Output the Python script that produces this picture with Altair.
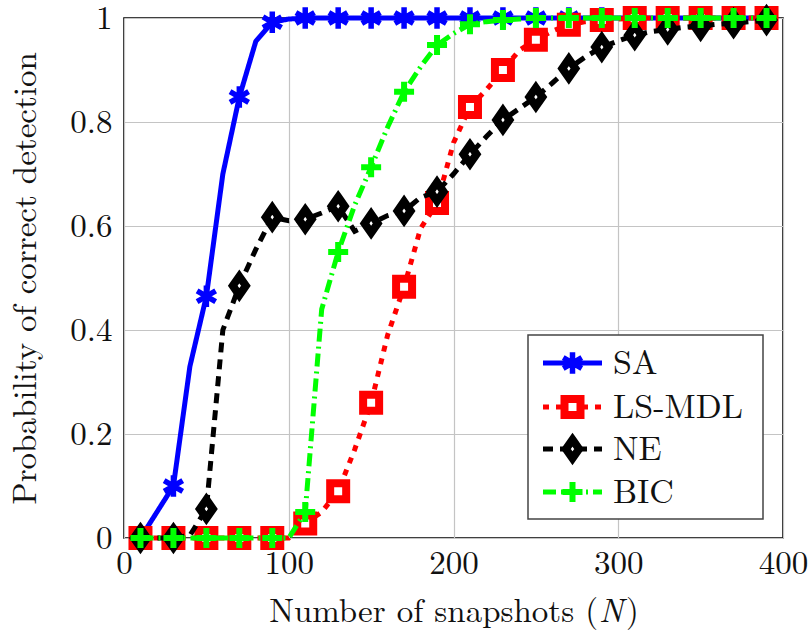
import altair as alt
import pandas as pd

# Number of snapshots N at which each detector was evaluated
snapshots = list(range(10, 400, 10))

# Probability of correct detection per method
sa = [0.0, 0.05, 0.10, 0.33, 0.465, 0.70, 0.848, 0.955, 0.992, 0.998] + [1.0] * 29
ls_mdl = [0.0] * 10 + [0.028, 0.05, 0.09, 0.17, 0.26, 0.39, 0.483, 0.595, 0.644, 0.76,
                       0.829, 0.862, 0.90, 0.938, 0.958, 0.975, 0.987, 0.993, 0.996, 0.998] + [1.0] * 9
ne = [0.0, 0.0, 0.0, 0.005, 0.056, 0.40, 0.485, 0.555, 0.617, 0.61,
      0.613, 0.625, 0.638, 0.59, 0.605, 0.62, 0.629, 0.655, 0.666, 0.70,
      0.738, 0.772, 0.804, 0.826, 0.848, 0.875, 0.903, 0.925, 0.944, 0.956,
      0.967, 0.974, 0.978, 0.982, 0.985, 0.988, 0.99, 0.993, 0.996]
bic = [0.0] * 10 + [0.05, 0.44, 0.55, 0.64, 0.713, 0.79, 0.858, 0.906, 0.948, 0.97,
                    0.988, 0.993, 0.996, 0.998] + [1.0] * 15

series = ["SA", "LS-MDL", "NE", "BIC"]
values = [sa, ls_mdl, ne, bic]

x_ticks = [0, 100, 200, 300, 400]
y_ticks = [0, 0.2, 0.4, 0.6, 0.8, 1]

rows = []
for name, vals in zip(series, values):
    for n, p in zip(snapshots, vals):
        rows.append({"N": n, "P": p, "method": name})
df = pd.DataFrame(rows)

FONT = "Latin Modern Roman"
INK = "#111111"
TITLE_SIZE = 33

ASTERISK = "M0,-1L0,1M-0.866,-0.5L0.866,0.5M-0.866,0.5L0.866,-0.5"
PLUS = "M-1,0L1,0M0,-1L0,1"
DIAMOND = "M0,-1L0.7,0L0,1L-0.7,0Z"

styles = {
    "SA": dict(color="#0000ff", dash=[1, 0], shape=ASTERISK, size=460, fill=None, sw=5.5),
    "LS-MDL": dict(color="#ff0000", dash=[6, 7], shape="square", size=256, fill="white", sw=8),
    "NE": dict(color="#000000", dash=[10, 7], shape=DIAMOND, size=350, fill="white", sw=8),
    "BIC": dict(color="#00ff00", dash=[13, 5, 2, 5], shape=PLUS, size=400, fill=None, sw=6),
}

x_enc = alt.X(
    "N:Q",
    scale=alt.Scale(domain=[0, 400], nice=False, zero=False),
    axis=alt.Axis(values=x_ticks, title=None, grid=True,
                  labelPadding=9, labelOverlap=False, labelFlush=False),
)
y_enc = alt.Y(
    "P:Q",
    scale=alt.Scale(domain=[0, 1], nice=False, zero=False),
    axis=alt.Axis(values=y_ticks, format="~g", title="Probability of correct detection",
                  grid=True, labelPadding=12, titlePadding=27, labelOverlap=False,
                  labelFlush=False),
)


def point_mark(st):
    if st["fill"] is None:
        return alt.MarkDef(type="point", shape=st["shape"], size=st["size"], filled=False,
                           stroke=st["color"], strokeWidth=st["sw"], opacity=1)
    return alt.MarkDef(type="point", shape=st["shape"], size=st["size"], filled=True,
                       fill=st["fill"], stroke=st["color"], strokeWidth=st["sw"], opacity=1)


layers = []
for name in series:
    st = styles[name]
    line = alt.Chart(df).transform_filter(alt.datum.method == name).mark_line(
        color=st["color"], strokeWidth=5, strokeDash=st["dash"]
    ).encode(x=x_enc, y=y_enc, order="N:Q")
    pts = alt.Chart(df, mark=point_mark(st)).transform_filter(
        alt.datum.method == name).transform_filter("datum.N % 20 == 10").encode(x=x_enc, y=y_enc)
    layers += [line, pts]

one = pd.DataFrame({"k": [0]})

# x-axis title with an italic N
title_y = 604
title_parts = [
    alt.Chart(one).mark_text(align="right", baseline="alphabetic", font=FONT,
                             fontSize=TITLE_SIZE, color=INK).encode(
        x=alt.value(474), y=alt.value(title_y), text=alt.value("Number of snapshots (")),
    alt.Chart(one).mark_text(align="left", baseline="alphabetic", font=FONT,
                             fontSize=TITLE_SIZE, fontStyle="italic", color=INK).encode(
        x=alt.value(475), y=alt.value(title_y), text=alt.value("N")),
    alt.Chart(one).mark_text(align="left", baseline="alphabetic", font=FONT,
                             fontSize=TITLE_SIZE, color=INK).encode(
        x=alt.value(502), y=alt.value(title_y), text=alt.value(")")),
]

# Legend box in the lower right of the plot area
legend_layers = [
    alt.Chart(one).mark_rect(fill="white", stroke="#444444", strokeWidth=1.5).encode(
        x=alt.value(404), x2=alt.value(639), y=alt.value(317), y2=alt.value(501)
    )
]
row_y = [345, 389, 431, 474]
for name, yy in zip(series, row_y):
    st = styles[name]
    legend_layers.append(
        alt.Chart(one).mark_rule(color=st["color"], strokeWidth=5, strokeDash=st["dash"]).encode(
            x=alt.value(419), x2=alt.value(478), y=alt.value(yy)
        )
    )
    legend_layers.append(
        alt.Chart(one, mark=point_mark(st)).encode(x=alt.value(448.5), y=alt.value(yy))
    )
    legend_layers.append(
        alt.Chart(one).mark_text(align="left", baseline="middle", font=FONT, fontSize=34,
                                 color=INK, dy=1).encode(
            x=alt.value(489), y=alt.value(yy), text=alt.value(name)
        )
    )

chart = alt.layer(*layers, *title_parts, *legend_layers).properties(
    width=659,
    height=520,
    background="white",
    autosize=alt.AutoSizeParams(type="none"),
    padding={"left": 124, "top": 18, "right": 29, "bottom": 95},
).configure_view(
    stroke="#000000", strokeWidth=1.6
).configure_axis(
    domain=False,
    ticks=False,
    gridColor="#c4c4c4",
    gridWidth=1.2,
    labelFont=FONT,
    labelFontSize=33,
    labelColor=INK,
    titleFont=FONT,
    titleFontSize=TITLE_SIZE,
    titleFontWeight="normal",
    titleColor=INK,
)

chart.save("out.html", embed_options={"renderer": "svg", "actions": False})
